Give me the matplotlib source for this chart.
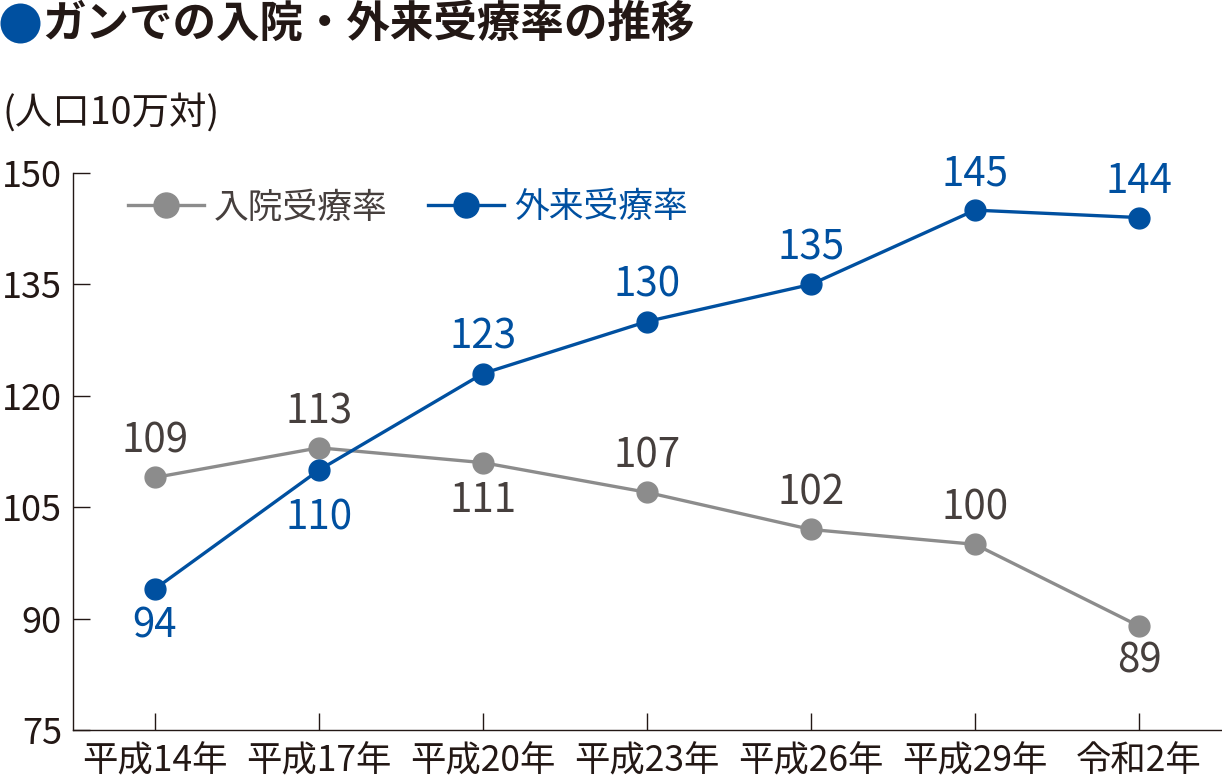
import matplotlib
matplotlib.use("Agg")
import matplotlib.pyplot as plt
from matplotlib.lines import Line2D

plt.rcParams['font.family'] = ['Noto Sans CJK JP', 'DejaVu Sans']

# data
years = ["平成14年", "平成17年", "平成20年", "平成23年", "平成26年", "平成29年", "令和2年"]
inpatient = [109, 113, 111, 107, 102, 100, 89]
outpatient = [94, 110, 123, 130, 135, 145, 144]
# vertical label offsets in points (+ above the point, - below)
inpatient_off = [26, 26, -27, 26, 26, 26, -25]
outpatient_off = [-27, -34.5, 26, 26, 26, 26, 26]

BLUE = "#0050a0"
GRAY = "#8c8c8c"
DARK = "#231815"
LABEL_GRAY = "#463f3d"

fig = plt.figure(figsize=(12.22, 7.83), dpi=100)
ax = fig.add_axes([73/1222, 53/783, 1148/1222, 557/783])

x = list(range(len(years)))
ax.plot(x, inpatient, color=GRAY, lw=2.4, marker="o", ms=15, label="入院受療率", zorder=3)
ax.plot(x, outpatient, color=BLUE, lw=2.4, marker="o", ms=15, label="外来受療率", zorder=4)

for xi, v, o in zip(x, inpatient, inpatient_off):
    ax.annotate(str(v), (xi, v), xytext=(0, o), textcoords="offset points",
                ha="center", va="center", fontsize=29, color=LABEL_GRAY)
for xi, v, o in zip(x, outpatient, outpatient_off):
    ax.annotate(str(v), (xi, v), xytext=(0, o), textcoords="offset points",
                ha="center", va="center", fontsize=29, color=BLUE)

ax.set_xlim(-0.5, 6.5)
ax.set_ylim(75, 150)
ax.set_yticks([75, 90, 105, 120, 135, 150])
ax.set_xticks(x)
ax.set_xticklabels(years)

for sp in ["top", "right"]:
    ax.spines[sp].set_visible(False)
for sp in ["left", "bottom"]:
    ax.spines[sp].set_linewidth(1.0)
    ax.spines[sp].set_color(DARK)

ax.tick_params(axis="y", direction="in", length=12, width=1, colors=DARK,
               labelsize=26, pad=8)
ax.tick_params(axis="x", direction="in", length=12, width=1, colors=DARK,
               labelsize=25.5, pad=9.5)

leg = ax.legend(loc="center left", bbox_to_anchor=((128 - 73)/1148, (730 - 208)/557),
                ncol=2, frameon=False, fontsize=25, handlelength=2.2,
                handletextpad=0.28, columnspacing=1.15, borderaxespad=0,
                borderpad=0, markerscale=1.2)
for t, c in zip(leg.get_texts(), [LABEL_GRAY, BLUE]):
    t.set_color(c)

# title bullet as a filled circle
fig.add_artist(Line2D([20/1222], [1 - 23/783], marker="o", ms=28.8, color=BLUE,
                      markeredgewidth=0, transform=fig.transFigure))
fig.text(42/1222, 1 - 24/783, "ガンでの入院・外来受療率の推移", fontsize=31.3,
         fontweight="bold", color=DARK, va="center", ha="left")
fig.text(2/1222, 1 - 113/783, "(人口10万対)", fontsize=27, color=DARK,
         va="center", ha="left")

fig.savefig("out.png", dpi=100)
